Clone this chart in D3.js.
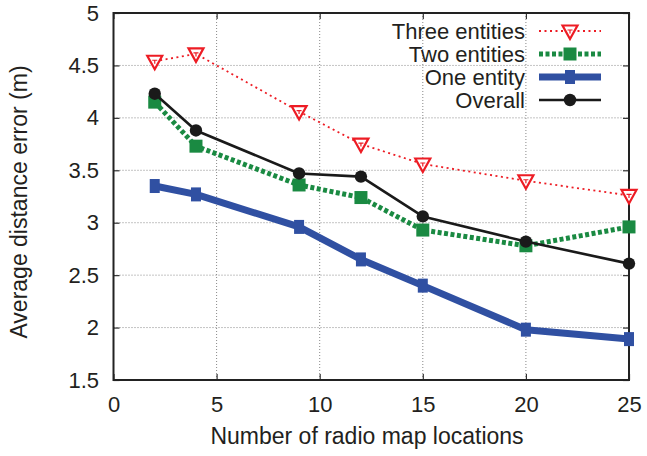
<!DOCTYPE html>
<html><head><meta charset="utf-8">
<script src="https://cdn.jsdelivr.net/npm/d3@7"></script>
<style>body{margin:0;background:#fff}svg{display:block}text{font-family:"Liberation Sans",Arial,sans-serif;fill:#231f20}</style>
</head><body>
<svg id="c" width="647" height="456"></svg>
<script>
const xValues = [2, 4, 9, 12, 15, 20, 25];
const threeEntities = [4.54, 4.61, 4.06, 3.75, 3.56, 3.40, 3.26];
const twoEntities = [4.15, 3.73, 3.36, 3.24, 2.93, 2.78, 2.96];
const oneEntity = [3.35, 3.27, 2.96, 2.65, 2.40, 1.98, 1.89];
const overall = [4.23, 3.88, 3.47, 3.44, 3.06, 2.82, 2.61];
const xTicks = [0, 5, 10, 15, 20, 25];
const yTicks = [1.5, 2, 2.5, 3, 3.5, 4, 4.5, 5];
const seriesNames = ["Three entities", "Two entities", "One entity", "Overall"];

const svg = d3.select("#c");
const L = 113.5, R = 629, T = 13, B = 380;
const x = d3.scaleLinear().domain([0, 25]).range([L, R]);
const y = d3.scaleLinear().domain([1.5, 5]).range([B, T]);

// grid
const g = svg.append("g");
g.selectAll(".gx").data(xTicks.slice(1, -1)).enter().append("line")
  .attr("x1", d => x(d)).attr("x2", d => x(d)).attr("y1", T).attr("y2", B)
  .attr("stroke", "#888").attr("stroke-width", 1).attr("stroke-dasharray", "1,2");
g.selectAll(".gy").data(yTicks.slice(1, -1)).enter().append("line")
  .attr("x1", L).attr("x2", R).attr("y1", d => y(d)).attr("y2", d => y(d))
  .attr("stroke", "#888").attr("stroke-width", 1).attr("stroke-dasharray", "1,2");

// axes
const ax = d3.axisBottom(x).tickValues(xTicks).tickSize(-6).tickPadding(16.5).tickFormat(d3.format("d"));
const axT = d3.axisTop(x).tickValues(xTicks).tickSize(-6).tickFormat("");
const ay = d3.axisLeft(y).tickValues(yTicks).tickSize(-6).tickPadding(14.5).tickFormat(d => d3.format("")(d));
const ayR = d3.axisRight(y).tickValues(yTicks).tickSize(-6).tickFormat("");
function style(sel) {
  sel.select(".domain").remove();
  sel.selectAll("line").attr("stroke", "#333").attr("stroke-width", 1.2);
  sel.selectAll("text").style("font-size", "22px").attr("fill", "#231f20");
}
svg.append("g").attr("transform", `translate(0,${B})`).call(ax).call(style);
svg.append("g").attr("transform", `translate(0,${T})`).call(axT).call(style);
svg.append("g").attr("transform", `translate(${L},0)`).call(ay).call(style);
svg.append("g").attr("transform", `translate(${R},0)`).call(ayR).call(style);

svg.append("rect").attr("x", L).attr("y", T).attr("width", R - L).attr("height", B - T)
  .attr("fill", "none").attr("stroke", "#222").attr("stroke-width", 2);

svg.append("text").attr("x", 367).attr("y", 444).attr("text-anchor", "middle")
  .style("font-size", "23px").text("Number of radio map locations");
svg.append("text").attr("transform", `translate(27,202) rotate(-90)`).attr("text-anchor", "middle")
  .style("font-size", "23px").text("Average distance error (m)");

const line = d3.line().x(d => x(d[0])).y(d => y(d[1]));
const series = [
  {name: seriesNames[0], vals: threeEntities, color: "#ed1c24", w: 1.8, dash: "2,3.5", marker: "tri"},
  {name: seriesNames[1], vals: twoEntities, color: "#1a8a42", w: 5, dash: "4,2.5", marker: "sq"},
  {name: seriesNames[2], vals: oneEntity, color: "#3050a2", w: 7, dash: null, marker: "plus"},
  {name: seriesNames[3], vals: overall, color: "#1a1a1a", w: 2.6, dash: null, marker: "circ"}
];

function drawMarker(sel, s, cx, cy) {
  if (s.marker === "tri") {
    sel.append("path").attr("d", `M${cx - 7.5},${cy - 5.5} L${cx + 7.5},${cy - 5.5} L${cx},${cy + 8} Z`)
      .attr("fill", "#fff").attr("stroke", s.color).attr("stroke-width", 2.2);
    sel.append("path").attr("d", `M${cx - 2.5},${cy - 1} L${cx + 2.5},${cy - 1} M${cx},${cy - 1} L${cx},${cy + 2.5}`)
      .attr("stroke", s.color).attr("stroke-width", 1.2);
  } else if (s.marker === "sq") {
    sel.append("rect").attr("x", cx - 6.5).attr("y", cy - 6.5).attr("width", 13).attr("height", 13).attr("fill", s.color);
  } else if (s.marker === "plus") {
    sel.append("rect").attr("x", cx - 5).attr("y", cy - 7).attr("width", 10).attr("height", 14).attr("fill", s.color);
  } else {
    sel.append("circle").attr("cx", cx).attr("cy", cy).attr("r", 6.2).attr("fill", s.color);
  }
}

const plot = svg.append("g");
[2, 1, 3, 0].forEach(i => {
  const s = series[i];
  const pts = xValues.map((xv, j) => [xv, s.vals[j]]);
  plot.append("path").datum(pts).attr("d", line).attr("fill", "none")
    .attr("stroke", s.color).attr("stroke-width", s.w)
    .attr("stroke-dasharray", s.dash).attr("stroke-linejoin", "round");
  const mg = plot.append("g");
  pts.forEach(p => drawMarker(mg, s, x(p[0]), y(p[1])));
});

// legend
const legY = [31, 54, 77, 100];
series.forEach((s, i) => {
  const lg = svg.append("g");
  lg.append("text").attr("x", 525).attr("y", legY[i]).attr("dy", "0.35em").attr("text-anchor", "end")
    .style("font-size", "22px").text(s.name);
  lg.append("line").attr("x1", 539).attr("x2", 601).attr("y1", legY[i]).attr("y2", legY[i])
    .attr("stroke", s.color).attr("stroke-width", s.w).attr("stroke-dasharray", s.dash);
  drawMarker(lg, s, 570, legY[i]);
});
</script>
</body></html>
